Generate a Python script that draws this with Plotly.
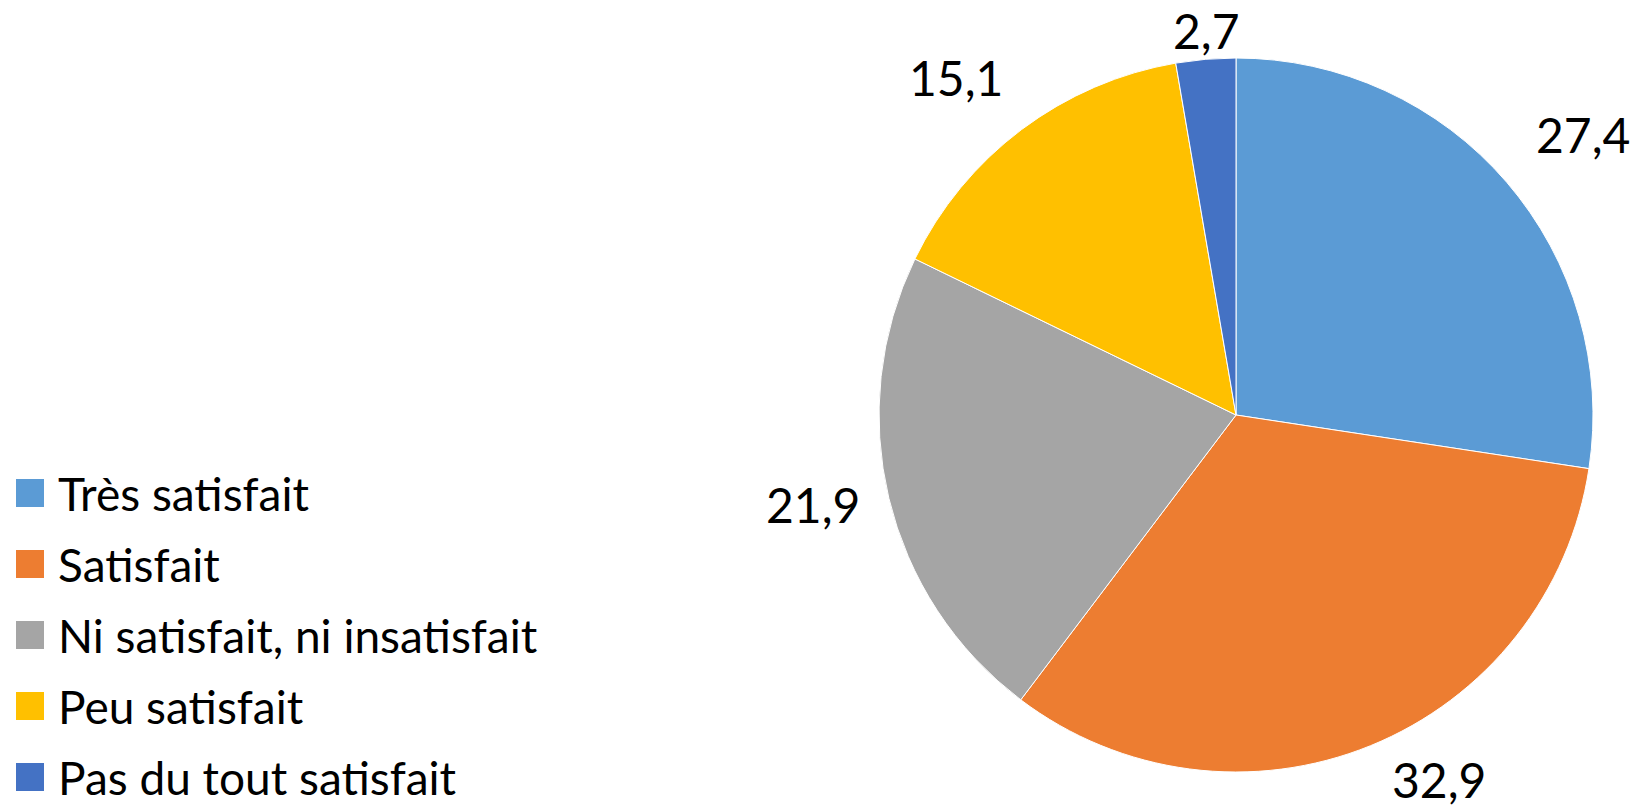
import math
import plotly.graph_objects as go

categories = ["Très satisfait", "Satisfait", "Ni satisfait, ni insatisfait",
              "Peu satisfait", "Pas du tout satisfait"]
values = [27.4, 32.9, 21.9, 15.1, 2.7]
value_labels = ["27,4", "32,9", "21,9", "15,1", "2,7"]
colors = ["#5B9BD5", "#ED7D31", "#A5A5A5", "#FFC000", "#4472C4"]

# page has an 8px body margin: figure fills the rest of the 1638x806 window
OFF = 8
W, H = 1638 - OFF, 806 - OFF
CX, CY, R = 1236 - OFF, 415 - OFF, 357  # pie centre (figure px from top-left) and radius

# label placement style (radial factor, angle shift in degrees)
label_radius = [1.25, 1.17, 1.21, 1.23, 1.08]
label_shift = [1.8, -7, 1.5, -2.8, 0.5]


def px(x):
    return x / W


def py(y):
    return 1 - y / H


fig = go.Figure()
fig.add_trace(go.Pie(
    labels=categories, values=values, sort=False, direction="clockwise",
    rotation=0, marker=dict(colors=colors, line=dict(color="white", width=1)),
    textinfo="none", hoverinfo="label+value", showlegend=False,
    domain=dict(x=[px(CX - R), px(CX + R)], y=[py(CY + R), py(CY - R)]),
))

total = sum(values)
cum = 0.0
annotations = []
for v, lab, f, s in zip(values, value_labels, label_radius, label_shift):
    mid = (cum + v / 2) / total * 360 + s
    cum += v
    d = f * R
    lx = CX + d * math.sin(math.radians(mid))
    ly = CY - d * math.cos(math.radians(mid))
    annotations.append(dict(x=px(lx), y=py(ly), xref="paper", yref="paper",
                            text=lab, showarrow=False, xanchor="center",
                            yanchor="middle",
                            font=dict(family="Lato", size=48, color="black")))

# legend built from categories and colours
shapes = []
for i, (cat, col) in enumerate(zip(categories, colors)):
    yc = 493 - OFF + 71 * i
    shapes.append(dict(type="rect", xref="paper", yref="paper",
                       x0=px(16 - OFF), x1=px(44 - OFF),
                       y0=py(yc + 14), y1=py(yc - 14),
                       fillcolor=col, line=dict(width=0)))
    annotations.append(dict(x=px(56 - OFF), y=py(yc), xref="paper", yref="paper",
                            text=cat, showarrow=False, xanchor="left", yanchor="middle",
                            font=dict(family="Lato", size=46, color="black")))

fig.update_layout(width=W, height=H, margin=dict(l=0, r=0, t=0, b=0),
                  paper_bgcolor="white", plot_bgcolor="white",
                  annotations=annotations, shapes=shapes)
fig.write_html("out.html")
